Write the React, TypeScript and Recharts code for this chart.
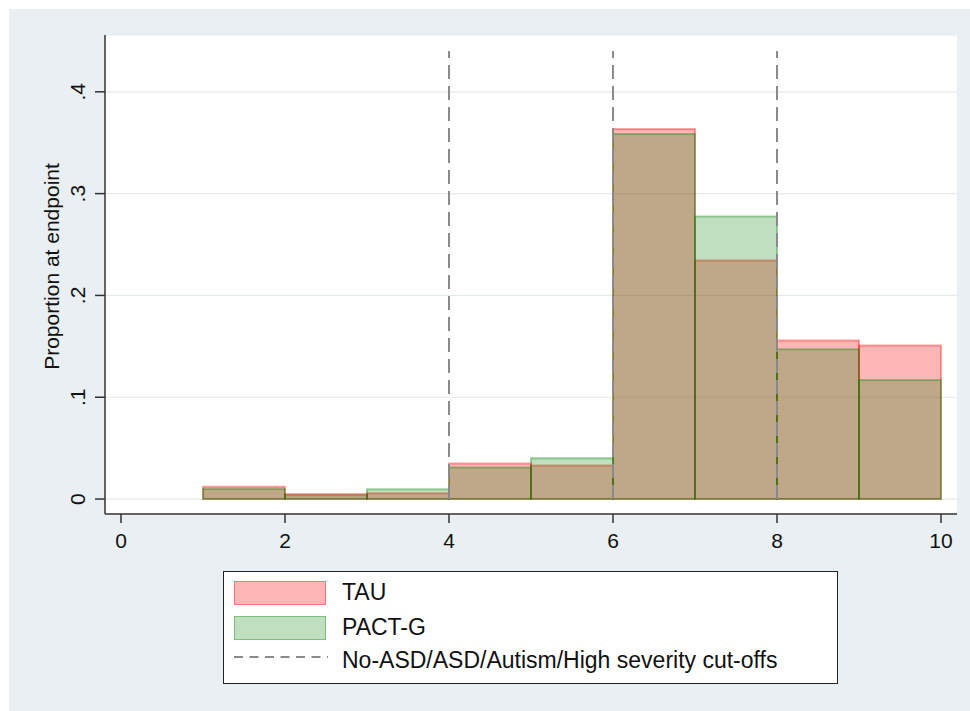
import React from "react";
import {
  ComposedChart,
  XAxis,
  YAxis,
  CartesianGrid,
  ReferenceArea,
  ReferenceLine,
} from "recharts";

// Histogram bin edges (score), width 1
const binEdges = [1, 2, 3, 4, 5, 6, 7, 8, 9, 10];
// Proportion at endpoint per bin
const tauValues = [0.012, 0.005, 0.0056, 0.035, 0.033, 0.3635, 0.2343, 0.1557, 0.1508];
const pactValues = [0.0098, 0.0036, 0.0095, 0.031, 0.04, 0.3586, 0.2776, 0.1472, 0.117];
// Severity cut-offs
const cutoffs = [4, 6, 8];
const cutoffTop = 0.44;
// Axis ticks
const xTicks = [0, 2, 4, 6, 8, 10];
const xTickLabels = ["0", "2", "4", "6", "8", "10"];
const yTicks = [0, 0.1, 0.2, 0.3, 0.4];
const yTickLabels = ["0", ".1", ".2", ".3", ".4"];

const seriesNames = ["TAU", "PACT-G"];
const cutoffName = "No-ASD/ASD/Autism/High severity cut-offs";

const FONT = "'Liberation Sans', Arial, Helvetica, sans-serif";

const bins = binEdges.slice(0, -1).map((start, i) => ({
  x1: start,
  x2: binEdges[i + 1],
  tau: tauValues[i],
  pact: pactValues[i],
}));

const XTick = (props: any) => {
  const { x, y, payload } = props;
  const idx = xTicks.indexOf(payload.value);
  return (
    <text x={x} y={y + 25} textAnchor="middle" fontSize={21} fontFamily={FONT} fill="#111">
      {idx >= 0 ? xTickLabels[idx] : payload.value}
    </text>
  );
};

const YTick = (props: any) => {
  const { x, y, payload } = props;
  const idx = yTicks.indexOf(payload.value);
  const bx = x - 10;
  return (
    <text
      x={bx}
      y={y}
      textAnchor="middle"
      fontSize={21}
      fontFamily={FONT}
      fill="#111"
      transform={`rotate(-90, ${bx}, ${y})`}
    >
      {idx >= 0 ? yTickLabels[idx] : payload.value}
    </text>
  );
};

const YTitle = (props: any) => {
  const vb = props.viewBox || { x: 0, y: 35, width: 105, height: 479 };
  const cx = vb.x + 59;
  const cy = vb.y + vb.height / 2 - 8;
  return (
    <text
      x={cx}
      y={cy}
      textAnchor="middle"
      fontSize={21}
      fontFamily={FONT}
      fill="#111"
      transform={`rotate(-90, ${cx}, ${cy})`}
    >
      Proportion at endpoint
    </text>
  );
};

const TAU_FILL = "#ff0000";
const PACT_FILL = "#008000";

export default function App() {
  return (
    <div style={{ position: "absolute", left: 0, top: 0, width: 970, height: 711, overflow: "hidden", background: "#ffffff" }}>
      <div
        style={{
          position: "absolute",
          left: 9,
          top: 9,
          width: 961,
          height: 702,
          background: "#e9eff2",
        }}
      />
      <div style={{ position: "absolute", left: 0, top: 0 }}>
        <ComposedChart
          width={970}
          height={711}
          data={bins}
          margin={{ top: 35, right: 13, left: 0, bottom: 137 }}
        >
          <CartesianGrid
            vertical={false}
            horizontal={true}
            stroke="#e3ebef"
            strokeWidth={1.2}
            fill="#ffffff"
          />
          <XAxis
            type="number"
            dataKey="x1"
            domain={[-0.195, 10.195]}
            allowDataOverflow
            ticks={xTicks}
            interval={0}
            tickSize={9}
            tickMargin={0}
            height={60}
            stroke="#333"
            strokeWidth={1.5}
            tickLine={{ stroke: "#333", strokeWidth: 1.5 }}
            tick={<XTick />}
          />
          <YAxis
            type="number"
            domain={[-0.0147, 0.4558]}
            allowDataOverflow
            ticks={yTicks}
            interval={0}
            width={105}
            tickSize={10}
            tickMargin={0}
            stroke="#333"
            strokeWidth={1.5}
            tickLine={{ stroke: "#333", strokeWidth: 1.5 }}
            tick={<YTick />}
            label={<YTitle />}
          />
          {bins.map((b, i) => (
            <ReferenceArea
              key={`tau-${i}`}
              x1={b.x1}
              x2={b.x2}
              y1={0}
              y2={b.tau}
              fill={TAU_FILL}
              fillOpacity={0.286}
              stroke={TAU_FILL}
              strokeOpacity={0.35}
              strokeWidth={2}
              ifOverflow="visible"
            />
          ))}
          {bins.map((b, i) => (
            <ReferenceArea
              key={`pact-${i}`}
              x1={b.x1}
              x2={b.x2}
              y1={0}
              y2={b.pact}
              fill={PACT_FILL}
              fillOpacity={0.25}
              stroke={PACT_FILL}
              strokeOpacity={0.35}
              strokeWidth={2}
              ifOverflow="visible"
            />
          ))}
          {cutoffs.map((c) => (
            <ReferenceLine
              key={`cut-${c}`}
              segment={[
                { x: c, y: 0 },
                { x: c, y: cutoffTop },
              ]}
              stroke="#8a8a8a"
              strokeWidth={2}
              strokeDasharray="14 7"
              ifOverflow="visible"
            />
          ))}
        </ComposedChart>
      </div>
      <div
        style={{
          position: "absolute",
          left: 223,
          top: 571,
          width: 613,
          height: 111,
          background: "#ffffff",
          border: "1.5px solid #222",
          fontFamily: FONT,
          fontSize: 23,
          color: "#111",
        }}
      >
        <div
          style={{
            position: "absolute",
            left: 10,
            top: 9,
            width: 90,
            height: 22,
            background: "rgba(255,0,0,0.286)",
            border: "1px solid rgba(255,0,0,0.35)",
          }}
        />
        <div style={{ position: "absolute", left: 118, top: 7, lineHeight: "27px" }}>{seriesNames[0]}</div>
        <div
          style={{
            position: "absolute",
            left: 10,
            top: 44,
            width: 90,
            height: 22,
            background: "rgba(0,128,0,0.25)",
            border: "1px solid rgba(0,128,0,0.35)",
          }}
        />
        <div style={{ position: "absolute", left: 118, top: 42, lineHeight: "27px" }}>{seriesNames[1]}</div>
        <svg style={{ position: "absolute", left: 10, top: 80 }} width={94} height={10}>
          <line x1={0} y1={5} x2={94} y2={5} stroke="#8a8a8a" strokeWidth={2} strokeDasharray="9 6.5" />
        </svg>
        <div style={{ position: "absolute", left: 118, top: 75, lineHeight: "27px" }}>{cutoffName}</div>
      </div>
    </div>
  );
}
